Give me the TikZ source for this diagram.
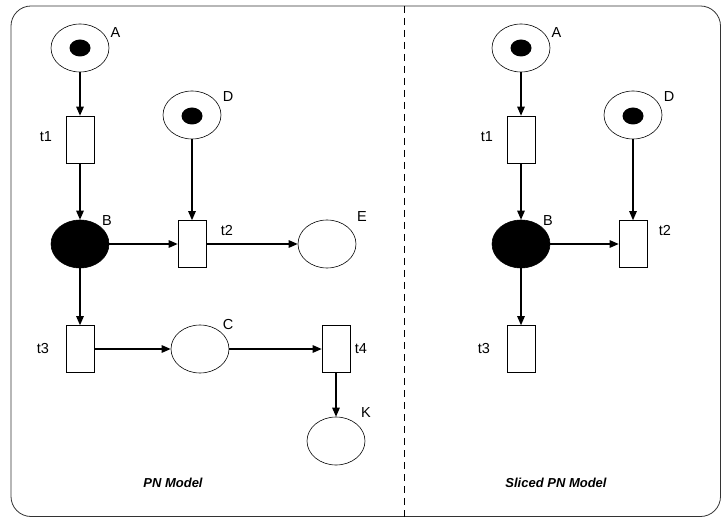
\documentclass[tikz,border=0pt]{standalone}
\usepackage{fontspec}
\setmainfont{Liberation Sans}
\usetikzlibrary{shapes.geometric,arrows.meta}
\tikzset{
  place/.style={draw,ellipse,minimum width=58pt,minimum height=48pt,inner sep=0pt,line width=0.6pt},
  token/.style={fill,ellipse,minimum width=21pt,minimum height=17pt,inner sep=0pt},
  trans/.style={draw,rectangle,minimum width=28pt,minimum height=47pt,inner sep=0pt,line width=0.6pt},
  arc/.style={-{Triangle[length=9pt,width=7.5pt]},line width=1.2pt},
  lbl/.style={font=\fontsize{14.5}{16}\selectfont,inner sep=0pt},
  title/.style={font=\fontsize{13}{15}\selectfont\bfseries\itshape,inner sep=0pt}
}
\begin{document}
\begin{tikzpicture}[x=1pt,y=-1pt]
\useasboundingbox (0,0) rectangle (722,518);
%\draw [help lines,step=50] (0,0) grid (722,518);
\draw [black!80,line width=0.8pt,rounded corners=20pt] (11,6) rectangle (720.5,516.5);
\draw [line width=1pt,dash pattern=on 7pt off 5pt] (404,6) -- (404,516.5);

% PN model
\node [place] (A) at (80,48) {};
\node [token] at (80,48) {};
\node [lbl] at (115.5,33) {A};
\node [trans] (t1) at (80,139.5) {};
\node [lbl] at (46,137) {t1};
\node [place,fill] (B) at (80,244) {};
\node [lbl] at (107,221) {B};
\node [place] (D) at (192,115) {};
\node [token] at (192,116) {};
\node [lbl] at (228,97) {D};
\node [trans] (t2) at (192,244) {};
\node [lbl] at (227,230) {t2};
\node [place] (E) at (327,244) {};
\node [lbl] at (362,217) {E};
\node [trans] (t3) at (80,349) {};
\node [lbl] at (43,349) {t3};
\node [place] (C) at (200,349) {};
\node [lbl] at (228,325) {C};
\node [trans] (t4) at (336,349) {};
\node [lbl] at (361,349) {t4};
\node [place] (K) at (336,441) {};
\node [lbl] at (366,413) {K};
\node [title] at (173,483) {PN Model};

\draw [arc] (A) -- (t1);
\draw [arc] (t1) -- (B);
\draw [arc] (B) -- (t2);
\draw [arc] (D) -- (t2);
\draw [arc] (t2) -- (E);
\draw [arc] (B) -- (t3);
\draw [arc] (t3) -- (C);
\draw [arc] (C) -- (t4);
\draw [arc] (t4) -- (K);

% Sliced PN model
\node [place] (sA) at (521,48) {};
\node [token] at (521,48) {};
\node [lbl] at (556.5,33) {A};
\node [trans] (st1) at (521,139.5) {};
\node [lbl] at (487,137) {t1};
\node [place,fill] (sB) at (521,244) {};
\node [lbl] at (548,221) {B};
\node [place] (sD) at (633,115) {};
\node [token] at (633,116) {};
\node [lbl] at (669,97) {D};
\node [trans] (st2) at (633,244) {};
\node [lbl] at (665,230) {t2};
\node [trans] (st3) at (521,349) {};
\node [lbl] at (484,349) {t3};
\node [title] at (556,483) {Sliced PN Model};

\draw [arc] (sA) -- (st1);
\draw [arc] (st1) -- (sB);
\draw [arc] (sB) -- (st2);
\draw [arc] (sD) -- (st2);
\draw [arc] (sB) -- (st3);
\end{tikzpicture}
\end{document}
